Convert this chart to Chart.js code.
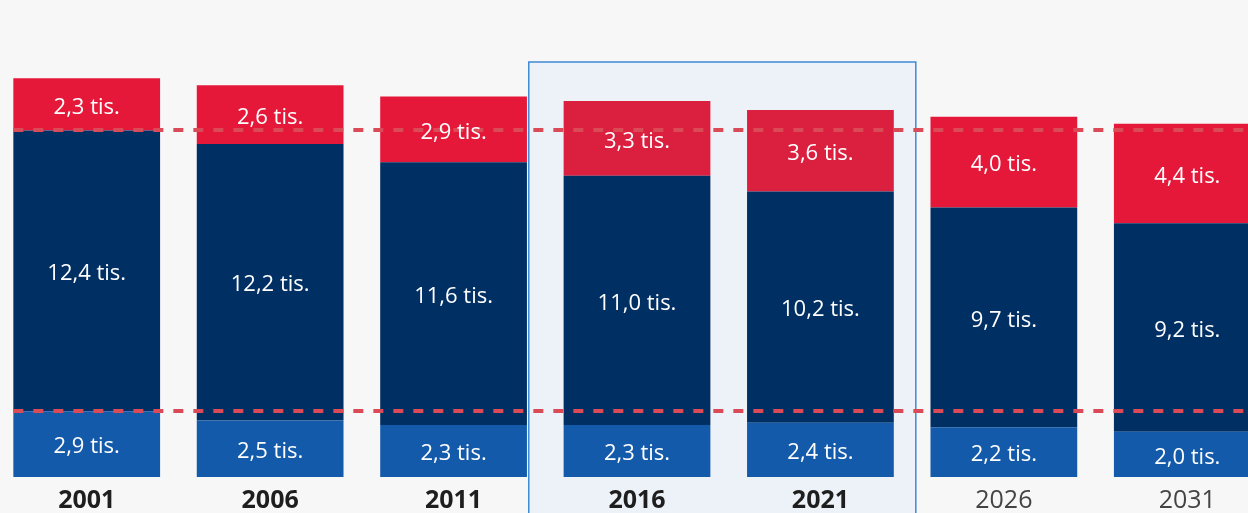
<!DOCTYPE html>
<html>
<head>
<meta charset="utf-8">
<script src="https://cdn.jsdelivr.net/npm/chart.js@4.4.1/dist/chart.umd.min.js"></script>
<style>
  html, body { margin: 0; padding: 0; background: #f7f7f7; overflow: hidden; width: 1248px; height: 513px; }
  #wrap { position: absolute; left: -5px; top: 0; width: 1284px; height: 525px; }
</style>
</head>
<body>
<div id="wrap"><canvas id="c"></canvas></div>
<script>
const years = ['2001', '2006', '2011', '2016', '2021', '2026', '2031'];
const bottomValues = [2.9, 2.5, 2.3, 2.3, 2.4, 2.2, 2.0];
const middleValues = [12.4, 12.2, 11.6, 11.0, 10.2, 9.7, 9.2];
const topValues = [2.3, 2.6, 2.9, 3.3, 3.6, 4.0, 4.4];
const referenceLines = [2.9, 15.3];
const boldYears = ['2001', '2006', '2011', '2016', '2021'];
const highlightYears = ['2016', '2021'];

const fmt = v => v.toFixed(1).replace('.', ',') + ' tis.';

const highlightPlugin = {
  id: 'highlight',
  beforeDraw(chart) {
    const { ctx, scales: { x }, chartArea } = chart;
    const i0 = years.indexOf(highlightYears[0]);
    const i1 = years.indexOf(highlightYears[highlightYears.length - 1]);
    const step = x.getPixelForValue(1) - x.getPixelForValue(0);
    const left = x.getPixelForValue(i0) - step * 0.59;
    const right = x.getPixelForValue(i1) + step * 0.52;
    const top = chartArea.top + 38;
    const bottom = chart.height + 5;
    ctx.save();
    ctx.fillStyle = '#edf1f8';
    ctx.fillRect(left, top, right - left, bottom - top);
    ctx.strokeStyle = '#3f8ad6';
    ctx.lineWidth = 1.5;
    ctx.strokeRect(left, top, right - left, bottom - top);
    ctx.restore();
  }
};

const overlayPlugin = {
  id: 'overlay',
  afterDatasetsDraw(chart) {
    const { ctx, scales: { x, y } } = chart;
    ctx.save();
    const firstBar = chart.getDatasetMeta(0).data[0];
    const startX = firstBar.x - firstBar.width / 2;
    ctx.strokeStyle = '#da4a57';
    ctx.lineWidth = 4;
    ctx.setLineDash([10, 10]);
    referenceLines.forEach(v => {
      const py = Math.round(y.getPixelForValue(v));
      ctx.beginPath();
      ctx.moveTo(startX, py);
      ctx.lineTo(chart.width, py);
      ctx.stroke();
    });
    ctx.setLineDash([]);
    ctx.font = '22px "Open Sans", sans-serif';
    ctx.fillStyle = '#ffffff';
    ctx.textAlign = 'center';
    ctx.textBaseline = 'middle';
    chart.data.datasets.forEach((ds, di) => {
      const meta = chart.getDatasetMeta(di);
      meta.data.forEach((bar, i) => {
        const cy = (bar.y + bar.base) / 2;
        ctx.fillText(fmt(ds.data[i]), bar.x, cy + 3);
      });
    });
    ctx.restore();
  }
};

const redColors = years.map(yr => highlightYears.includes(yr) ? '#da1f3f' : '#e5183a');

new Chart(document.getElementById('c'), {
  type: 'bar',
  data: {
    labels: years,
    datasets: [
      { data: bottomValues, backgroundColor: '#135aab' },
      { data: middleValues, backgroundColor: '#002f63' },
      { data: topValues, backgroundColor: redColors }
    ]
  },
  options: {
    responsive: true,
    maintainAspectRatio: false,
    animation: false,
    layout: { padding: { top: 24, bottom: 0, left: 0, right: 0 } },
    datasets: { bar: { barPercentage: 0.8, categoryPercentage: 1.0, borderWidth: 0 } },
    plugins: { legend: { display: false }, tooltip: { enabled: false } },
    scales: {
      x: {
        stacked: true,
        grid: { display: false, drawTicks: false, tickLength: 0 },
        border: { display: false },
        ticks: {
          padding: 9,
          color: ctx => boldYears.includes(years[ctx.index]) ? '#1e1e1e' : '#444444',
          font: ctx => ({
            family: '"Open Sans", sans-serif',
            size: 25,
            weight: boldYears.includes(years[ctx.index]) ? 'bold' : 'normal'
          })
        }
      },
      y: {
        stacked: true,
        display: false,
        min: 0,
        max: 20
      }
    }
  },
  plugins: [highlightPlugin, overlayPlugin]
});
</script>
</body>
</html>
